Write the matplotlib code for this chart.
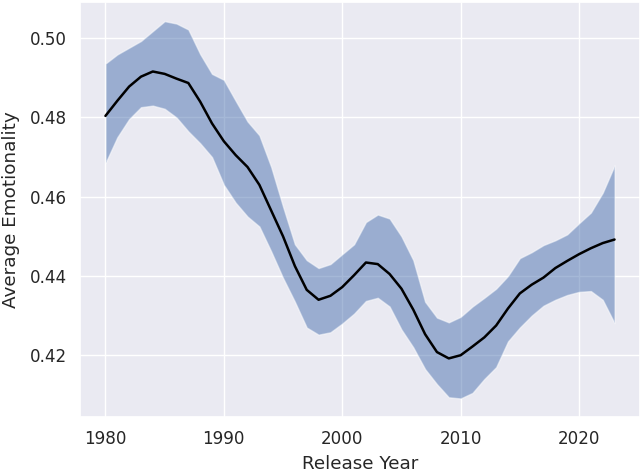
import matplotlib
matplotlib.use("Agg")
import matplotlib.pyplot as plt
import seaborn as sns

years = list(range(1980, 2024))

mean_emotionality = [
    0.4804, 0.4842, 0.4878, 0.4903, 0.4916, 0.4910, 0.4898, 0.4887, 0.4840, 0.4785,
    0.4740, 0.4705, 0.4675, 0.4630, 0.4565, 0.4500, 0.4425, 0.4365, 0.4340, 0.4350,
    0.4372, 0.4402, 0.4434, 0.4430, 0.4405, 0.4368, 0.4315, 0.4253, 0.4208, 0.4192,
    0.4200, 0.4222, 0.4245, 0.4275, 0.4318, 0.4356, 0.4378, 0.4396, 0.4420, 0.4438,
    0.4455, 0.4470, 0.4483, 0.4492,
]

upper_bound = [
    0.4936, 0.4959, 0.4976, 0.4993, 0.5018, 0.5043, 0.5037, 0.5022, 0.4960, 0.4910,
    0.4895, 0.4842, 0.4790, 0.4755, 0.4675, 0.4575, 0.4480, 0.4440, 0.4420, 0.4430,
    0.4455, 0.4480, 0.4536, 0.4555, 0.4545, 0.4500, 0.4440, 0.4335, 0.4295, 0.4283,
    0.4297, 0.4323, 0.4345, 0.4368, 0.4400, 0.4445, 0.4460, 0.4478, 0.4490, 0.4505,
    0.4533, 0.4560, 0.4610, 0.4679,
]

lower_bound = [
    0.4685, 0.4750, 0.4796, 0.4826, 0.4830, 0.4822, 0.4800, 0.4765, 0.4735, 0.4700,
    0.4630, 0.4585, 0.4550, 0.4525, 0.4462, 0.4395, 0.4335, 0.4270, 0.4252, 0.4258,
    0.4280, 0.4305, 0.4337, 0.4345, 0.4323, 0.4265, 0.4220, 0.4165, 0.4127, 0.4094,
    0.4091, 0.4105, 0.4140, 0.4170, 0.4235, 0.4270, 0.4300, 0.4325, 0.4340, 0.4352,
    0.4360, 0.4362, 0.4340, 0.4281,
]

sns.set_theme(style="darkgrid", font_scale=1.1)
plt.rcParams["font.family"] = ["DejaVu Sans"]

fig = plt.figure(figsize=(6.4, 4.72), dpi=100)
ax = fig.add_axes([0.125, 0.1159, 0.875, 0.8792])

ax.fill_between(years, lower_bound, upper_bound, color="#4C72B0", alpha=0.5,
                edgecolor="white", linewidth=1.0)
ax.plot(years, mean_emotionality, color="black", linewidth=1.8)

ax.set_xlabel("Release Year", labelpad=4.5)
ax.set_ylabel("Average Emotionality", labelpad=7)
ax.set_xticks([1980, 1990, 2000, 2010, 2020])
ax.set_yticks([0.42, 0.44, 0.46, 0.48, 0.50])

fig.savefig("out.png", dpi=100)
